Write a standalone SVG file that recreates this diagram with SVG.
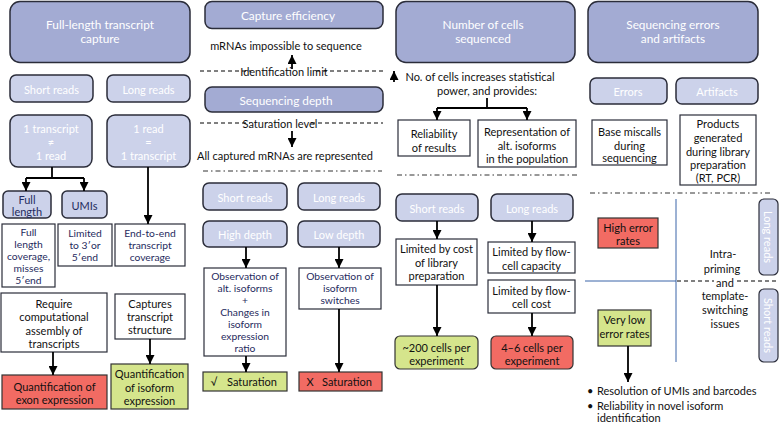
<svg xmlns="http://www.w3.org/2000/svg" width="779" height="424" viewBox="0 0 779 424">
<defs>
<marker id="ah" viewBox="0 0 10 10" refX="10" refY="5" markerWidth="9" markerHeight="9" markerUnits="userSpaceOnUse" orient="auto"><path d="M0,0 L10,5 L0,10 z" fill="#000"/></marker>
<style>
.hd{fill:#a3abd3;stroke:#2b2d3a;stroke-width:1.5}
.lt{fill:#ccd2ea;stroke:#2b2d3a;stroke-width:1.5}
.wb{fill:#fff;stroke:#2b2d3a;stroke-width:1.2}
.red{fill:#f26b63;stroke:#333;stroke-width:1.2}
.grn{fill:#d5e58c;stroke:#333;stroke-width:1.2}
.pill{fill:#ccd2ea;stroke:#2b2d3a;stroke-width:1.2}
text{font-family:Lato,"Open Sans","Liberation Sans",sans-serif;font-size:11px;text-anchor:middle;dominant-baseline:central;fill:#111}
.big{font-size:11.8px}
.sm{font-size:10.3px}
.w{fill:#fff}
.n{fill:#1f2b5e}
.l{text-anchor:start}
.c{stroke:#000;stroke-width:1.8;fill:none}
.a{stroke:#000;stroke-width:1.8;fill:none;marker-end:url(#ah)}
.dash{stroke:#000;stroke-width:1;stroke-dasharray:4 3;fill:none}
.dd{stroke:#333;stroke-width:1;stroke-dasharray:5 3 1.5 3;fill:none}
.bl{stroke:#3a64a8;stroke-width:1;fill:none}
</style>
</defs>

<!-- Column 1 -->
<g id="fl-header"><rect class="hd" x="10" y="1.5" width="180" height="61" rx="10"/><text class="w big" x="100" y="24">Full-length transcript</text><text class="w big" x="100" y="38">capture</text></g>
<g id="c1-short"><rect class="lt" x="10" y="75" width="83" height="27" rx="6"/><text class="w" x="51.5" y="89">Short reads</text></g>
<g id="c1-long"><rect class="lt" x="107" y="75" width="83" height="27" rx="6"/><text class="w" x="148.5" y="89">Long reads</text></g>
<g id="c1-neq"><rect class="lt" x="10" y="115" width="82" height="52" rx="8"/><text class="w" x="51" y="128">1 transcript</text><text class="w" x="51" y="141">≠</text><text class="w" x="51" y="155">1 read</text></g>
<g id="c1-eq"><rect class="lt" x="107" y="115" width="83" height="52" rx="8"/><text class="w" x="148.5" y="128">1 read</text><text class="w" x="148.5" y="141">=</text><text class="w" x="148.5" y="155">1 transcript</text></g>
<g id="c1-full"><rect class="lt" x="3" y="191" width="48" height="27" rx="5"/><text class="n" x="27" y="199">Full</text><text class="n" x="27" y="211">length</text></g>
<g id="c1-umis"><rect class="lt" x="62" y="191" width="45" height="27" rx="5"/><text class="n" x="84.5" y="205">UMIs</text></g>
<g id="c1-fullcov"><rect class="wb" x="2" y="224" width="53" height="63"/><text class="n sm" x="28.5" y="232">Full</text><text class="n sm" x="28.5" y="244">length</text><text class="n sm" x="28.5" y="256">coverage,</text><text class="n sm" x="28.5" y="268">misses</text><text class="n sm" x="28.5" y="280">5′end</text></g>
<g id="c1-limited"><rect class="wb" x="58" y="224" width="54" height="42"/><text class="n sm" x="85" y="233">Limited</text><text class="n sm" x="85" y="245">to 3′or</text><text class="n sm" x="85" y="257">5′end</text></g>
<g id="c1-e2e"><rect class="wb" x="115" y="224" width="70" height="42"/><text class="n sm" x="150" y="233">End-to-end</text><text class="n sm" x="150" y="245">transcript</text><text class="n sm" x="150" y="257">coverage</text></g>
<g id="c1-require"><rect class="wb" x="1" y="293" width="106" height="59"/><text x="54" y="303">Require</text><text x="54" y="316">computational</text><text x="54" y="330">assembly of</text><text x="54" y="343">transcripts</text></g>
<g id="c1-captures"><rect class="wb" x="115" y="294" width="70" height="45"/><text x="150" y="303">Captures</text><text x="150" y="316">transcript</text><text x="150" y="329">structure</text></g>
<g id="c1-exon"><rect class="red" x="2" y="375" width="105" height="34"/><text x="54.5" y="386">Quantification of</text><text x="54.5" y="399">exon expression</text></g>
<g id="c1-isoform"><rect class="grn" x="111" y="364" width="77" height="45"/><text x="149.5" y="373">Quantification</text><text x="149.5" y="387">of isoform</text><text x="149.5" y="400">expression</text></g>

<!-- Column 2 -->
<g id="ce-header"><rect class="hd" x="205" y="1.5" width="178" height="27" rx="7"/><text class="w big" x="288" y="15">Capture efficiency</text></g>
<g id="c2-impossible"><text x="286" y="45">mRNAs impossible to sequence</text></g>
<g id="c2-idlimit"><text x="284" y="71">Identification limit</text></g>
<g id="sd-header"><rect class="hd" x="205" y="87" width="178" height="25" rx="7"/><text class="w big" x="286" y="100">Sequencing depth</text></g>
<g id="c2-satlevel"><text x="280" y="123">Saturation level</text></g>
<g id="c2-allcaptured"><text x="285" y="155">All captured mRNAs are represented</text></g>
<g id="c2-short"><rect class="lt" x="203" y="183" width="84" height="27" rx="6"/><text class="w" x="245" y="197">Short reads</text></g>
<g id="c2-long"><rect class="lt" x="298" y="183" width="82" height="27" rx="6"/><text class="w" x="339" y="197">Long reads</text></g>
<g id="c2-high"><rect class="lt" x="203" y="221" width="84" height="26" rx="6"/><text class="w" x="245" y="234">High depth</text></g>
<g id="c2-low"><rect class="lt" x="298" y="221" width="82" height="26" rx="6"/><text class="w" x="339" y="234">Low depth</text></g>
<g id="c2-obs1"><rect class="wb" x="204" y="268" width="82" height="88"/><text class="n sm" x="245" y="276">Observation of</text><text class="n sm" x="245" y="288">alt. isoforms</text><text class="n sm" x="245" y="300">+</text><text class="n sm" x="245" y="312">Changes in</text><text class="n sm" x="245" y="324">isoform</text><text class="n sm" x="245" y="336">expression</text><text class="n sm" x="245" y="348">ratio</text></g>
<g id="c2-obs2"><rect class="wb" x="299" y="268" width="82" height="41"/><text class="n sm" x="340" y="276">Observation of</text><text class="n sm" x="340" y="288">isoform</text><text class="n sm" x="340" y="300">switches</text></g>
<g id="c2-satok"><rect class="grn" x="203" y="372" width="84" height="19"/><text y="381"><tspan x="214">√</tspan><tspan x="252">Saturation</tspan></text></g>
<g id="c2-satno"><rect class="red" x="299" y="372" width="83" height="19"/><text y="381"><tspan x="310">X</tspan><tspan x="347">Saturation</tspan></text></g>

<!-- Column 3 -->
<g id="nc-header"><rect class="hd" x="396" y="1.5" width="179" height="61" rx="10"/><text class="w big" x="483" y="24">Number of cells</text><text class="w big" x="483" y="38">sequenced</text></g>
<g id="c3-power"><text x="480" y="76">No. of cells increases statistical</text><text x="487" y="90">power, and provides:</text></g>
<g id="c3-reliab"><rect class="wb" x="398" y="120" width="72" height="36"/><text x="434" y="133">Reliability</text><text x="434" y="147">of results</text></g>
<g id="c3-repr"><rect class="wb" x="478" y="120" width="98" height="47"/><text x="527" y="131">Representation of</text><text x="527" y="145">alt. isoforms</text><text x="527" y="158">in the population</text></g>
<g id="c3-short"><rect class="lt" x="396" y="194" width="82" height="27" rx="6"/><text class="w" x="437" y="208">Short reads</text></g>
<g id="c3-long"><rect class="lt" x="491" y="194" width="82" height="27" rx="6"/><text class="w" x="532" y="208">Long reads</text></g>
<g id="c3-cost"><rect class="wb" x="396" y="239" width="81" height="46"/><text x="436.5" y="248">Limited by cost</text><text x="436.5" y="262">of library</text><text x="436.5" y="275">preparation</text></g>
<g id="c3-capacity"><rect class="wb" x="488" y="242" width="87" height="31"/><text x="531.5" y="251">Limited by flow-</text><text x="531.5" y="265">cell capacity</text></g>
<g id="c3-flowcost"><rect class="wb" x="488" y="280" width="87" height="33"/><text x="531.5" y="290">Limited by flow-</text><text x="531.5" y="303">cell cost</text></g>
<g id="c3-200"><rect class="grn" x="395" y="336" width="83" height="33" rx="5"/><text x="436.5" y="347">~200 cells per</text><text x="436.5" y="360">experiment</text></g>
<g id="c3-46"><rect class="red" x="491" y="336" width="82" height="33" rx="5"/><text x="532" y="347">4–6 cells per</text><text x="532" y="360">experiment</text></g>

<!-- Column 4 -->
<g id="se-header"><rect class="hd" x="588" y="1.5" width="170" height="61" rx="10"/><text class="w big" x="673" y="24">Sequencing errors</text><text class="w big" x="673" y="38">and artifacts</text></g>
<g id="c4-errors"><rect class="lt" x="590" y="78" width="77" height="26" rx="6"/><text class="w" x="628" y="91">Errors</text></g>
<g id="c4-artifacts"><rect class="lt" x="676" y="78" width="82" height="26" rx="6"/><text class="w" x="717" y="91">Artifacts</text></g>
<g id="c4-base"><rect class="wb" x="592" y="120" width="75" height="45"/><text x="629.5" y="131">Base miscalls</text><text x="629.5" y="145">during</text><text x="629.5" y="157">sequencing</text></g>
<g id="c4-products"><rect class="wb" x="680" y="115" width="76" height="70"/><text x="718" y="123">Products</text><text x="718" y="137">generated</text><text x="718" y="151">during library</text><text x="718" y="164">preparation</text><text x="718" y="177">(RT, PCR)</text></g>
<g id="c4-high"><rect class="red" x="598" y="218" width="60" height="30"/><text x="628" y="227">High error</text><text x="628" y="240">rates</text></g>
<g id="c4-intra"><text x="723" y="253">Intra-</text><text x="722" y="268">priming</text><text x="725" y="282">and</text><text x="725" y="295">template-</text><text x="725" y="309">switching</text><text x="725" y="323">issues</text></g>
<g id="c4-longpill"><rect class="pill" x="759" y="199" width="19" height="76" rx="5"/><text class="w" transform="translate(768.5 237) rotate(90)" x="0" y="0">Long reads</text></g>
<g id="c4-shortpill"><rect class="pill" x="759" y="289" width="19" height="73" rx="5"/><text class="w" transform="translate(768.5 325.5) rotate(90)" x="0" y="0">Short reads</text></g>
<g id="c4-low"><rect class="grn" x="598" y="310" width="53" height="36"/><text x="624.5" y="319">Very low</text><text x="624.5" y="333">error rates</text></g>
<g id="c4-bullets"><text class="l" x="587" y="390">•</text><text class="l" x="597" y="390">Resolution of UMIs and barcodes</text><text class="l" x="587" y="405">•</text><text class="l" x="597" y="405">Reliability in novel isoform</text><text class="l" x="597" y="417">identification</text></g>

<!-- Connectors -->
<g id="connectors">
<path class="c" d="M52,167 V178 M26,178 H84"/>
<path class="a" d="M26,178 V191"/>
<path class="a" d="M84,178 V191"/>
<path class="a" d="M148,167 V224"/>
<path class="a" d="M53,352 V375"/>
<path class="a" d="M150,339 V364"/>
<path class="a" d="M292,69 V55"/>
<path class="dash" d="M200,71 H251 M316,71 H383"/>
<path class="dash" d="M200,123 H250 M311,123 H383"/>
<path class="a" d="M292,131 V147"/>
<path class="dd" d="M203,171 H382"/>
<path class="a" d="M246,247 V268"/>
<path class="a" d="M339,247 V268"/>
<path class="a" d="M246,356 V372"/>
<path class="a" d="M339,309 V372"/>
<path class="a" d="M394,82 V71"/>
<path class="c" d="M487,98 V108 M437,108 H527"/>
<path class="a" d="M437,108 V120"/>
<path class="a" d="M527,108 V120"/>
<path class="dd" d="M397,175 H578"/>
<path class="a" d="M437,221 V239"/>
<path class="a" d="M532,221 V242"/>
<path class="a" d="M532,313 V336"/>
<path class="a" d="M437,285 V336"/>
<path class="dd" d="M590,193 H770"/>
<path class="bl" d="M676,199 V362 M585,281 H676"/>
<path class="dash" d="M677,281 H714 M737,281 H779"/>
<path class="a" d="M628,346 V382"/>
</g>
</svg>
